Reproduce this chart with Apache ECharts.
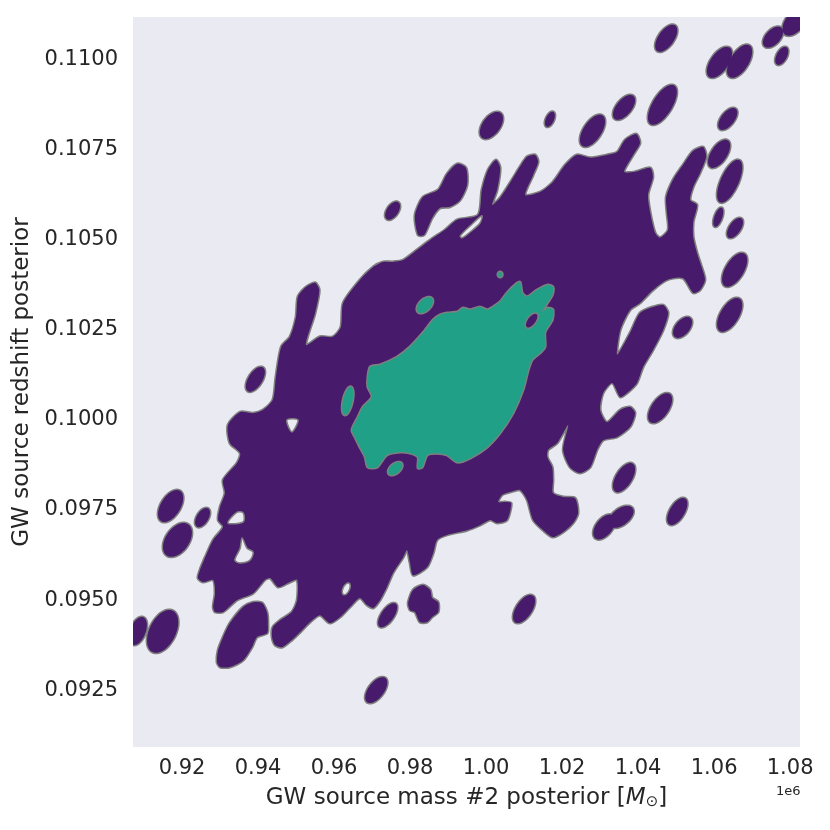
<!DOCTYPE html>
<html><head><meta charset="utf-8">
<script src="https://cdn.jsdelivr.net/npm/echarts@6/dist/echarts.min.js"></script>
<style>html,body{margin:0;padding:0;background:#fff}#c{width:830px;height:830px}</style>
</head><body><div id="c"></div>
<script>
// ---- axis ticks ----
const xTicks = [0.92, 0.94, 0.96, 0.98, 1.00, 1.02, 1.04, 1.06, 1.08];
const yTicks = [0.0925, 0.0950, 0.0975, 0.1000, 0.1025, 0.1050, 0.1075, 0.1100];
const xRange = [0.9071, 1.0826];
const yRange = [0.09092, 0.11119];

// ---- outer (lower) density level: main region outline [mass (1e6 Msun), redshift] ----
const outerMain = [[0.9287,0.09467],[0.9282,0.09481],[0.9287,0.09519],[0.9282,0.09556],[0.9255,0.0955],[0.9242,0.09561],[0.9247,0.09583],[0.9261,0.09619],[0.9282,0.09667],[0.9308,0.09703],[0.9295,0.09722],[0.93,0.09758],[0.9313,0.09797],[0.9308,0.09833],[0.9345,0.09881],[0.9353,0.09908],[0.9326,0.09936],[0.9321,0.09986],[0.9353,0.10022],[0.9387,0.10019],[0.9413,0.10028],[0.9439,0.10056],[0.9447,0.10119],[0.9461,0.10203],[0.9484,0.10231],[0.95,0.10286],[0.9505,0.10342],[0.9526,0.10369],[0.955,0.10381],[0.9561,0.10361],[0.955,0.10297],[0.9526,0.10208],[0.9563,0.10231],[0.9597,0.10231],[0.9618,0.10258],[0.9624,0.10325],[0.9668,0.10389],[0.9703,0.10425],[0.9729,0.10439],[0.9755,0.10439],[0.9782,0.10444],[0.9818,0.10472],[0.9853,0.105],[0.9892,0.10528],[0.9924,0.10556],[0.9979,0.10569],[0.9989,0.10639],[1.0005,0.10694],[1.0026,0.10722],[1.0037,0.107],[1.0029,0.10639],[1.0016,0.10597],[1.0037,0.10617],[1.0068,0.10667],[1.0089,0.10703],[1.0108,0.10731],[1.0129,0.10736],[1.0137,0.10717],[1.0124,0.10681],[1.0103,0.10625],[1.0142,0.10633],[1.0176,0.10661],[1.0208,0.10708],[1.0239,0.10736],[1.0274,0.10728],[1.0318,0.10736],[1.0345,0.10744],[1.0366,0.10778],[1.0395,0.10794],[1.0405,0.10769],[1.0387,0.10736],[1.0363,0.10689],[1.0392,0.10689],[1.0432,0.107],[1.0439,0.10675],[1.0426,0.10625],[1.0432,0.10575],[1.0445,0.10519],[1.0458,0.10506],[1.0479,0.10528],[1.0476,0.10575],[1.0474,0.10619],[1.0492,0.10667],[1.0518,0.10708],[1.0545,0.10747],[1.0571,0.10758],[1.0579,0.10731],[1.0563,0.10686],[1.0545,0.10647],[1.0537,0.10611],[1.0555,0.10597],[1.0545,0.1055],[1.0545,0.10508],[1.0555,0.10464],[1.0568,0.10422],[1.0576,0.10389],[1.0563,0.10361],[1.0545,0.10353],[1.0518,0.10394],[1.0476,0.10389],[1.0439,0.10361],[1.0405,0.10325],[1.0379,0.10306],[1.0353,0.1025],[1.0345,0.10181],[1.0379,0.10242],[1.0405,0.10297],[1.0439,0.10314],[1.0466,0.10319],[1.0479,0.10297],[1.0466,0.1025],[1.0439,0.10194],[1.0413,0.10147],[1.0397,0.10103],[1.0371,0.10075],[1.0353,0.10064],[1.0332,0.10103],[1.0308,0.10075],[1.03,0.10028],[1.0318,0.09994],[1.0353,0.10028],[1.0379,0.10036],[1.0392,0.10019],[1.0379,0.09981],[1.0345,0.09953],[1.0308,0.09944],[1.0292,0.09917],[1.0274,0.09869],[1.0247,0.09853],[1.0221,0.09869],[1.0203,0.09917],[1.0216,0.09986],[1.0187,0.09936],[1.0163,0.09917],[1.0161,0.09897],[1.0174,0.09869],[1.0176,0.09833],[1.0176,0.09797],[1.0203,0.09786],[1.0234,0.09783],[1.0242,0.09742],[1.0229,0.09714],[1.0203,0.09689],[1.0176,0.09675],[1.015,0.09694],[1.0124,0.09722],[1.0108,0.09778],[1.0089,0.09806],[1.0063,0.098],[1.0042,0.09792],[1.0032,0.09772],[1.005,0.09772],[1.0066,0.09769],[1.0055,0.09722],[1.0029,0.09714],[1.0011,0.09722],[0.9984,0.09708],[0.995,0.09694],[0.9897,0.09681],[0.9871,0.09667],[0.9861,0.09631],[0.9845,0.09592],[0.9808,0.09569],[0.98,0.09603],[0.9792,0.09639],[0.9782,0.09619],[0.9755,0.09575],[0.9739,0.09536],[0.9721,0.095],[0.9703,0.09478],[0.9687,0.09486],[0.9668,0.09506],[0.9642,0.09481],[0.9616,0.09453],[0.9589,0.09436],[0.9563,0.09458],[0.9537,0.09439],[0.9511,0.09411],[0.9489,0.09389],[0.9463,0.09369],[0.9445,0.09375],[0.9437,0.09397],[0.9439,0.09425],[0.9458,0.09444],[0.9489,0.09467],[0.9503,0.095],[0.9503,0.09556],[0.9484,0.0955],[0.9453,0.09536],[0.9432,0.09561],[0.9418,0.09556],[0.9387,0.09519],[0.9345,0.095],[0.9308,0.09467]];
const outerLobeLow = [[0.9292,0.09328],[0.9295,0.09361],[0.9308,0.09397],[0.9326,0.09436],[0.9361,0.09481],[0.9387,0.09494],[0.9411,0.09492],[0.9424,0.09464],[0.9426,0.09425],[0.9424,0.09408],[0.9397,0.09397],[0.9384,0.09369],[0.9361,0.09333],[0.9326,0.09314],[0.93,0.09314]];
const outerLobeTop = [[0.9821,0.10514],[0.9813,0.10569],[0.9834,0.10619],[0.9874,0.10639],[0.9897,0.10683],[0.9924,0.10711],[0.9947,0.107],[0.995,0.10653],[0.9932,0.10611],[0.9905,0.10592],[0.9879,0.10589],[0.9858,0.10561],[0.9837,0.10514]];
const outerLobeBottom = [[0.9795,0.09492],[0.9808,0.09528],[0.9834,0.09542],[0.9853,0.09528],[0.9858,0.09506],[0.9874,0.09494],[0.9874,0.09467],[0.9858,0.09453],[0.9845,0.09439],[0.9826,0.09439],[0.9813,0.09467],[0.98,0.09472]];
// islands: [centre mass, centre redshift, width, height, tilt deg]
const outerIslands = [
  [0.9754,0.10581,0.0039,0.0005,30],[1.0014,0.10818,0.0061,0.00075,30],[1.0168,0.10835,0.0026,0.00042,30],
  [1.028,0.10803,0.0066,0.00089,35],[1.0363,0.10868,0.0058,0.00069,35],[1.0474,0.1106,0.0058,0.00075,35],
  [1.0464,0.10875,0.0076,0.00111,40],[1.0614,0.10993,0.0066,0.00086,35],[1.0667,0.10996,0.0066,0.00092,35],
  [1.0755,0.11063,0.0053,0.00058,30],[1.0813,0.11106,0.0066,0.00078,30],[1.0778,0.11011,0.0034,0.0005,30],
  [1.0636,0.10836,0.005,0.00061,35],[1.0613,0.10739,0.0058,0.00078,35],[1.0641,0.10663,0.0066,0.00119,40],
  [1.0611,0.10563,0.0026,0.00053,35],[1.0655,0.10533,0.0042,0.00056,35],[1.0654,0.10417,0.0066,0.00094,35],
  [1.0641,0.10292,0.0066,0.00094,35],[1.0517,0.10257,0.005,0.00058,30],[1.0458,0.10033,0.0063,0.00083,35],
  [1.0363,0.0984,0.0058,0.00081,35],[1.0503,0.09746,0.0053,0.00075,35],[1.0311,0.09703,0.0058,0.00069,30],
  [1.0355,0.09731,0.0066,0.00061,30],[0.9741,0.09458,0.005,0.00067,40],[1.01,0.09475,0.0058,0.00078,35],
  [0.9711,0.0925,0.0058,0.00072,35],[0.917,0.09761,0.0066,0.00089,30],[0.9254,0.09729,0.0039,0.00053,30],
  [0.9188,0.09667,0.0076,0.00094,25],[0.9149,0.09413,0.0082,0.00119,25],[0.9084,0.09414,0.0047,0.00078,25],
  [0.9393,0.10113,0.005,0.00069,35]
];
const outerGaps = [
  [[0.9321,0.09714],[0.9345,0.09744],[0.9361,0.09742],[0.9361,0.09717]],
  [[0.9339,0.09611],[0.9353,0.09644],[0.9358,0.09672],[0.9371,0.09644],[0.9387,0.09633],[0.9379,0.09611],[0.9353,0.09603]],
  [[0.9476,0.1],[0.9505,0.1],[0.9489,0.09967]],
  [[0.9932,0.10511],[0.9958,0.10539],[0.9989,0.10567],[0.9984,0.10547],[0.9958,0.10522],[0.9937,0.10506]]
];
const outerGapIslands = [[0.9632,0.09531,0.0021,0.00033,30]];

// ---- inner (higher) density level ----
const innerMain = [[0.9689,0.10117],[0.9695,0.10147],[0.9721,0.10153],[0.9766,0.10175],[0.98,0.10203],[0.9834,0.10242],[0.9861,0.10278],[0.9879,0.10292],[0.9897,0.10297],[0.9924,0.103],[0.9939,0.10311],[0.9958,0.10306],[0.9984,0.10314],[1.0003,0.10306],[1.0018,0.10314],[1.0037,0.10328],[1.0055,0.10353],[1.0076,0.10375],[1.0089,0.10383],[1.0095,0.10353],[1.0108,0.10342],[1.0134,0.10361],[1.0163,0.10375],[1.0176,0.10369],[1.0174,0.10347],[1.0161,0.10325],[1.0147,0.103],[1.0163,0.10311],[1.0176,0.10306],[1.0174,0.10278],[1.0155,0.10244],[1.0155,0.10203],[1.0142,0.10186],[1.0121,0.10167],[1.0111,0.10139],[1.0097,0.10083],[1.0071,0.10019],[1.0037,0.09964],[1.0003,0.09925],[0.9958,0.09894],[0.9924,0.09883],[0.9897,0.09903],[0.9871,0.09908],[0.9845,0.09903],[0.9832,0.09869],[0.9821,0.09867],[0.9821,0.09897],[0.98,0.09908],[0.9774,0.09911],[0.9739,0.09903],[0.9713,0.09869],[0.9689,0.09869],[0.9682,0.09897],[0.9668,0.09925],[0.9655,0.09953],[0.9647,0.09972],[0.9663,0.10008],[0.9676,0.10036],[0.97,0.10064],[0.9689,0.10092]];
const innerIslands = [[0.9839,0.10319,0.0042,0.00044,30],[0.9636,0.10053,0.0029,0.00078,30],[0.9761,0.09865,0.0037,0.00036,30],[1.0037,0.10404,0.0011,0.00014,0]];
const innerGapIslands = [[1.012,0.10276,0.0034,0.00042,35]];

const PURPLE = '#471a6b', GREEN = '#20a086', EDGE = '#7f7f7f', BG = '#eaeaf2';

function ellipse(b) {
  const [cx, cy, w, h, t] = b, phi = t * Math.PI / 180, pts = [];
  for (let k = 0; k < 48; k++) {
    const a = k / 48 * 2 * Math.PI;
    pts.push([cx + w / 2 * Math.cos(a), cy + h / 2 * Math.sin(a + phi)]);
  }
  return pts;
}
const outerShapes = [outerMain, outerLobeLow, outerLobeTop, outerLobeBottom].map(p => ({pts: p, smooth: 0.25}))
  .concat(outerIslands.map(b => ({pts: ellipse(b), smooth: 0})));
const outerGapShapes = outerGaps.map(p => ({pts: p, smooth: 0.3})).concat(outerGapIslands.map(b => ({pts: ellipse(b), smooth: 0})));
const innerShapes = [{pts: innerMain, smooth: 0.25}].concat(innerIslands.map(b => ({pts: ellipse(b), smooth: 0})));
const innerGapShapes = innerGapIslands.map(b => ({pts: ellipse(b), smooth: 0}));

function layer(shapes, style, z) {
  return {
    type: 'custom', coordinateSystem: 'cartesian2d', clip: true, silent: true, z: z,
    data: shapes.map((s, i) => [s.pts[0][0], s.pts[0][1], i]),
    encode: {x: 0, y: 1},
    renderItem: function (params, api) {
      const s = shapes[params.dataIndex];
      return {type: 'polygon', shape: {points: s.pts.map(p => api.coord(p)), smooth: s.smooth}, style: style};
    }
  };
}

const chart = echarts.init(document.getElementById('c'), null, {renderer: 'canvas'});
const FONT = 'DejaVu Sans', TXT = '#262626';
chart.setOption({
  animation: false,
  backgroundColor: '#ffffff',
  grid: {left: 133, right: 30, top: 17, bottom: 83, show: true, backgroundColor: BG, borderWidth: 0},
  xAxis: {
    type: 'value', min: xRange[0], max: xRange[1],
    axisLine: {show: false}, axisTick: {show: false}, splitLine: {show: false},
    axisLabel: {customValues: xTicks, formatter: v => v.toFixed(2), fontSize: 21, color: TXT, fontFamily: FONT, margin: 11},
    name: '{n|GW source mass #2 posterior [}{i|M}{s|⊙}{n|]}',
    nameLocation: 'middle', nameGap: 40,
    nameTextStyle: {fontSize: 23, color: TXT, fontFamily: FONT,
      rich: {n: {fontSize: 23, color: TXT, fontFamily: FONT},
             i: {fontSize: 23, color: TXT, fontFamily: FONT, fontStyle: 'italic'},
             s: {fontSize: 15, color: TXT, fontFamily: FONT, verticalAlign: 'bottom', padding: [8, 0, 0, 0]}}}
  },
  yAxis: {
    type: 'value', min: yRange[0], max: yRange[1],
    axisLine: {show: false}, axisTick: {show: false}, splitLine: {show: false},
    axisLabel: {customValues: yTicks, formatter: v => v.toFixed(4), fontSize: 21, color: TXT, fontFamily: FONT, margin: 15},
    name: 'GW source redshift posterior', nameLocation: 'middle', nameGap: 86,
    nameTextStyle: {fontSize: 23, color: TXT, fontFamily: FONT}
  },
  graphic: [{type: 'text', left: 776, top: 785, style: {text: '1e6', fontSize: 13, fill: TXT, fontFamily: FONT}}],
  series: [
    layer(outerShapes, {fill: PURPLE, stroke: EDGE, lineWidth: 3}, 2),
    layer(outerShapes, {fill: PURPLE, lineWidth: 0}, 3),
    layer(outerGapShapes, {fill: BG, stroke: EDGE, lineWidth: 1.5}, 4),
    layer(innerShapes, {fill: GREEN, stroke: EDGE, lineWidth: 3}, 5),
    layer(innerShapes, {fill: GREEN, lineWidth: 0}, 6),
    layer(innerGapShapes, {fill: PURPLE, stroke: EDGE, lineWidth: 1.5}, 7)
  ]
});
</script>
</body></html>
